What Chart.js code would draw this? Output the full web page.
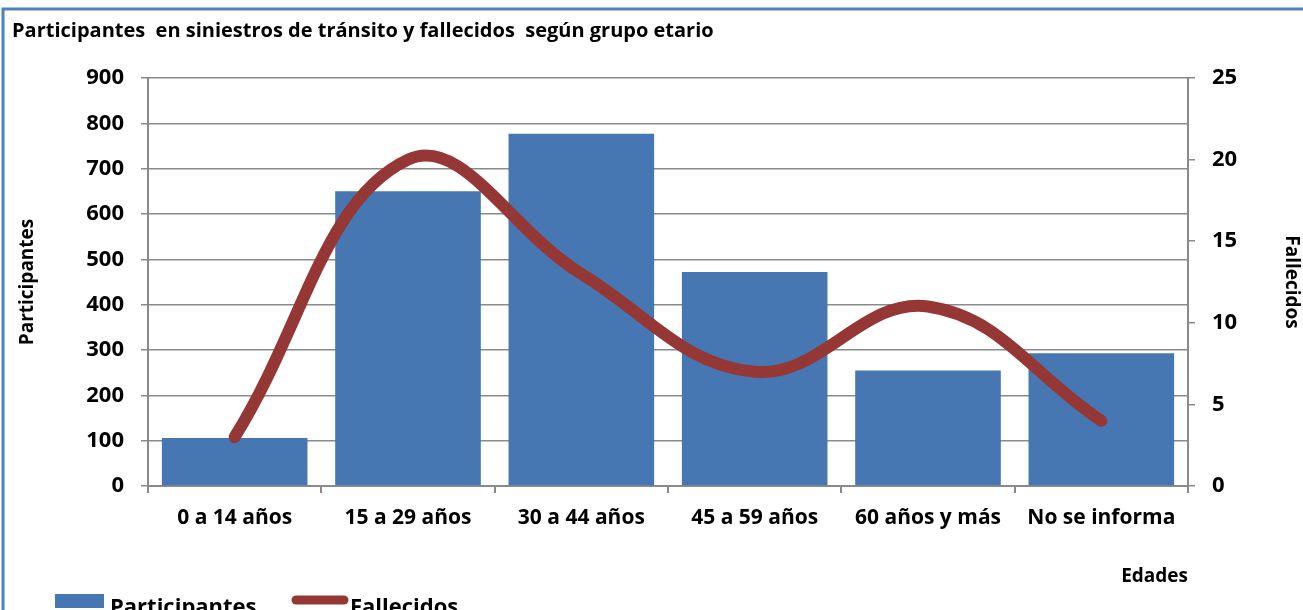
<!DOCTYPE html>
<html>
<head>
<meta charset="utf-8">
<script src="https://cdn.jsdelivr.net/npm/chart.js@4"></script>
<style>
  html, body { margin: 0; padding: 0; background: #fff; overflow: hidden; }
  #wrap { position: relative; width: 1303px; height: 610px; }
</style>
</head>
<body>
<div id="wrap"><canvas id="chart" width="1303" height="610"></canvas></div>
<script>
const title = "Participantes  en siniestros de tránsito y fallecidos  según grupo etario";
const categories = ["0 a 14 años", "15 a 29 años", "30 a 44 años", "45 a 59 años", "60 años y más", "No se informa"];
const participantes = [106, 650, 777, 472, 255, 293];
const fallecidos = [3, 20, 13, 7, 11, 4];
const leftTicks = [0, 100, 200, 300, 400, 500, 600, 700, 800, 900];
const rightTicks = [0, 5, 10, 15, 20, 25];

const FONT = "'Open Sans', sans-serif";
const barColor = "#4677b2";
const lineColor = "#953735";
const gridColor = "#8a8a8a";

// frame, title and legend drawn by hand
const extras = {
  id: "extras",
  beforeDraw(chart) {
    const c = chart.ctx;
    c.save();
    c.fillStyle = "#fff";
    c.fillRect(0, 0, chart.width, chart.height);
    c.strokeStyle = "#4f81bd";
    c.lineWidth = 3;
    c.beginPath();
    c.moveTo(3, chart.height);
    c.lineTo(3, 9);
    c.lineTo(chart.width, 9);
    c.stroke();
    c.restore();
  },
  afterDraw(chart) {
    const c = chart.ctx;
    c.save();
    c.fillStyle = "#000";
    c.font = "bold 20px " + FONT;
    c.textBaseline = "middle";
    c.textAlign = "left";
    c.fillText(title, 12, 31);

    // legend
    const bars = chart.data.datasets.find((d) => d.type === "bar");
    const line = chart.data.datasets.find((d) => d.type === "line");
    c.font = "bold 22px " + FONT;
    c.fillStyle = barColor;
    c.fillRect(55, 594, 49, 14);
    c.fillStyle = "#000";
    c.textBaseline = "alphabetic";
    c.fillText(bars.label, 110, 614);
    c.strokeStyle = lineColor;
    c.lineWidth = 9;
    c.lineCap = "round";
    c.beginPath();
    c.moveTo(296, 600);
    c.lineTo(344, 600);
    c.stroke();
    c.fillText(line.label, 350, 614);
    c.restore();
  },
};

new Chart(document.getElementById("chart"), {
  data: {
    labels: categories,
    datasets: [
      {
        type: "line",
        label: "Fallecidos",
        data: fallecidos,
        yAxisID: "y1",
        borderColor: lineColor,
        backgroundColor: lineColor,
        borderWidth: 12,
        borderCapStyle: "round",
        borderJoinStyle: "round",
        pointRadius: 0,
        tension: 0.4,
        order: 1,
      },
      {
        type: "bar",
        label: "Participantes",
        data: participantes,
        yAxisID: "y",
        backgroundColor: barColor,
        barPercentage: 0.84,
        categoryPercentage: 1,
        order: 2,
      },
    ],
  },
  options: {
    responsive: false,
    animation: false,
    layout: { padding: { top: 78, left: 0, right: 0, bottom: 0 } },
    plugins: {
      legend: { display: false },
      tooltip: { enabled: false },
    },
    scales: {
      x: {
        offset: true,
        grid: {
          offset: true,
          drawOnChartArea: false,
          drawTicks: true,
          tickLength: 7,
          color: gridColor,
          lineWidth: 2,
        },
        border: { color: gridColor, width: 2 },
        ticks: {
          color: "#000",
          font: { family: FONT, size: 21, weight: "bold" },
          padding: 12,
          maxRotation: 0,
        },
        title: {
          display: true,
          text: "Edades",
          align: "end",
          color: "#000",
          font: { family: FONT, size: 19, weight: "bold" },
          padding: { top: 0, bottom: 22 },
        },
        afterFit(scale) {
          scale.height = 124;
        },
      },
      y: {
        position: "left",
        min: 0,
        max: 900,
        afterBuildTicks(scale) {
          scale.ticks = leftTicks.map((v) => ({ value: v }));
        },
        grid: {
          color: gridColor,
          lineWidth: 1.5,
          tickLength: 7,
        },
        border: { color: gridColor, width: 2 },
        ticks: {
          color: "#000",
          font: { family: FONT, size: 22, weight: "bold" },
          padding: 17,
        },
        title: {
          display: true,
          text: "Participantes",
          color: "#000",
          font: { family: FONT, size: 19, weight: "bold" },
          padding: { top: 16, bottom: 0 },
        },
        afterFit(scale) {
          scale.width = 148;
        },
      },
      y1: {
        position: "right",
        min: 0,
        max: 25,
        afterBuildTicks(scale) {
          scale.ticks = rightTicks.map((v) => ({ value: v }));
        },
        grid: {
          drawOnChartArea: false,
          color: gridColor,
          lineWidth: 1.5,
          tickLength: 7,
        },
        border: { color: gridColor, width: 2 },
        ticks: {
          color: "#000",
          font: { family: FONT, size: 22, weight: "bold" },
          padding: 17,
        },
        title: {
          display: true,
          text: "Fallecidos",
          color: "#000",
          font: { family: FONT, size: 19, weight: "bold" },
          padding: { top: 0, bottom: 0 },
        },
        afterFit(scale) {
          scale.width = 115;
        },
      },
    },
  },
  plugins: [extras],
});
</script>
</body>
</html>
